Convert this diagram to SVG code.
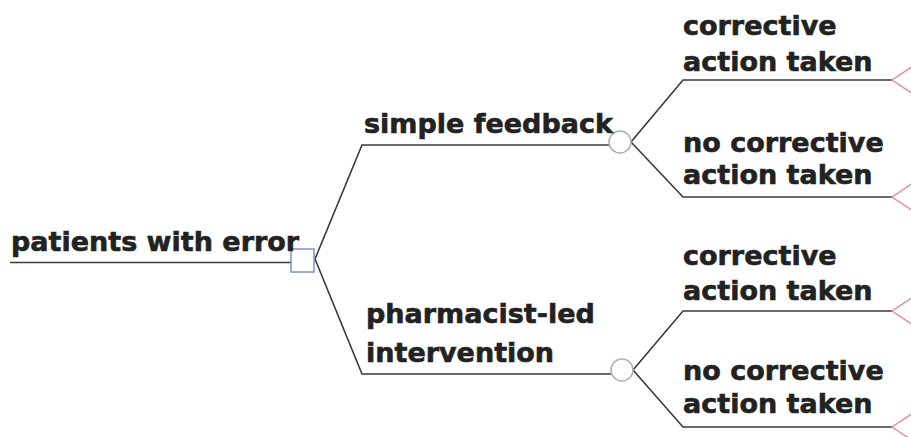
<svg xmlns="http://www.w3.org/2000/svg" width="911" height="437" viewBox="0 0 911 437">
<style>
.t{font-family:"DejaVu Sans","Verdana",sans-serif;font-weight:bold;font-size:27px;fill:#222;stroke:#222;stroke-width:0.6}
.l{stroke:#3a3a3a;stroke-width:1.6;fill:none}
.tri{stroke:#e48a9c;stroke-width:1.4;fill:none}
</style>
<rect width="911" height="437" fill="#fff"/>
<g id="connectors">
<path class="l" d="M10,262.5 H291"/>
<path class="l" d="M315,259 L362,145 H609"/>
<path class="l" d="M315,259 L362,374 H611"/>
<path class="l" d="M631,142 L683,80 H892"/>
<path class="l" d="M631,142 L683,197 H892"/>
<path class="l" d="M633,370 L683,311 H892"/>
<path class="l" d="M633,370 L683,427 H892"/>
</g>
<g id="root">
<rect x="291" y="249" width="23" height="23" fill="#fff" stroke="#8090cc" stroke-width="1.5"/>
<text class="t" x="11" y="251">patients with error</text>
</g>
<g id="simple">
<circle cx="620" cy="142" r="11" fill="#fff" stroke="#a8b4a8" stroke-width="1.5"/>
<text class="t" x="364" y="133">simple feedback</text>
</g>
<g id="pharm">
<circle cx="622" cy="370" r="11" fill="#fff" stroke="#a8b4a8" stroke-width="1.5"/>
<text class="t" x="366" y="323">pharmacist-led</text>
<text class="t" x="366" y="362">intervention</text>
</g>
<g id="out1">
<path class="tri" d="M913,66 L892,80 L913,94"/>
<text class="t" x="683" y="35">corrective</text>
<text class="t" x="683" y="71">action taken</text>
</g>
<g id="out2">
<path class="tri" d="M913,183 L892,197 L913,211"/>
<text class="t" x="683" y="152">no corrective</text>
<text class="t" x="683" y="184">action taken</text>
</g>
<g id="out3">
<path class="tri" d="M913,297 L892,311 L913,325"/>
<text class="t" x="683" y="265">corrective</text>
<text class="t" x="683" y="300">action taken</text>
</g>
<g id="out4">
<path class="tri" d="M913,413 L892,427 L913,441"/>
<text class="t" x="683" y="380">no corrective</text>
<text class="t" x="683" y="413">action taken</text>
</g>
</svg>
